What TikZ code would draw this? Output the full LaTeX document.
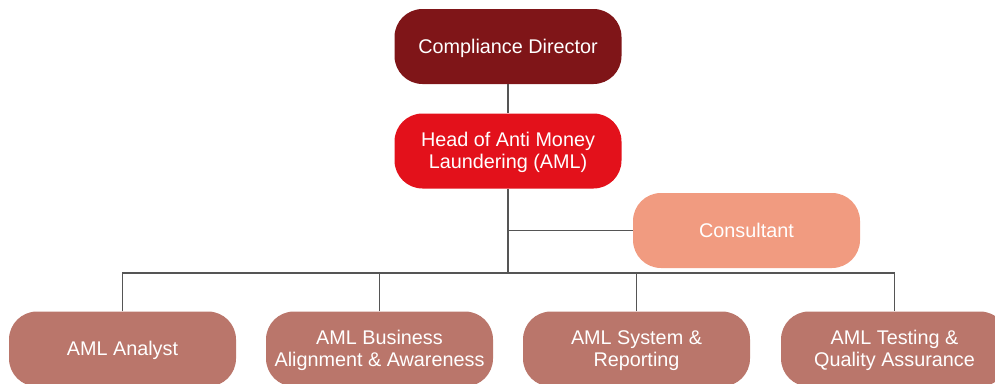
\documentclass[tikz,border=0pt]{standalone}
\usepackage{fontspec}
\setmainfont{Liberation Sans}
\newcommand\lowtxt[1]{\raisebox{-2.5pt}[\height][\depth]{\begin{tabular}{@{}c@{}}#1\end{tabular}}}
\begin{document}
\begin{tikzpicture}[x=1pt,y=-1pt,
  box/.style={rounded corners=28pt, minimum width=227pt, minimum height=75pt,
    inner sep=0pt, align=center, text=white,
    font=\fontsize{19.8}{22}\selectfont},
  link/.style={draw=linegray, line width=1.4pt}]
\definecolor{cdred}{HTML}{7F1518}
\definecolor{headred}{HTML}{E3111B}
\definecolor{consult}{HTML}{F19B80}
\definecolor{team}{HTML}{BA766B}
\definecolor{linegray}{HTML}{555555}
\useasboundingbox (0,0) rectangle (995,383);
\node[box, fill=cdred] (cd) at (508,46.5) {\lowtxt{Compliance Director}};
\node[box, fill=headred] (head) at (508,151) {\lowtxt{Head of Anti Money\\Laundering (AML)}};
\node[box, fill=consult] (cons) at (746.5,230.5) {\lowtxt{Consultant}};
\node[box, fill=team] (t1) at (122.5,349) {\lowtxt{AML Analyst}};
\node[box, fill=team] (t2) at (379.5,349) {\lowtxt{AML Business\\Alignment \& Awareness}};
\node[box, fill=team] (t3) at (636.5,349) {\lowtxt{AML System \&\\Reporting}};
\node[box, fill=team] (t4) at (894.5,349) {\lowtxt{AML Testing \&\\Quality Assurance}};
\coordinate (bus) at (508,273);
\draw[link] (cd.south) -- (head.north);
\draw[link] (head.south) -- (bus);
\draw[link] (head.south |- cons.west) -- (cons.west);
\draw[link] (t1.north) -- (t1.north |- bus) -- (t4.north |- bus) -- (t4.north);
\draw[link] (t2.north) -- (t2.north |- bus);
\draw[link] (t3.north) -- (t3.north |- bus);
\end{tikzpicture}
\end{document}
